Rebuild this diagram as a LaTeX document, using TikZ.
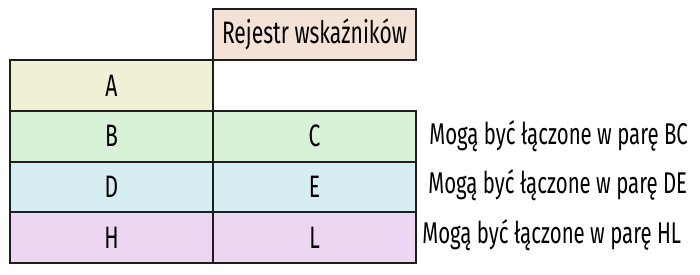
\documentclass[tikz,border=0pt]{standalone}
\usepackage{fontspec}
\setmainfont{Fira Sans}[FakeStretch=0.68]
\usepackage{tikz}
\usetikzlibrary{
  positioning,
  backgrounds
}
\definecolor{hdrbg}{RGB}{245,226,214}
\definecolor{rowabg}{RGB}{239,240,214}
\definecolor{rowbcbg}{RGB}{215,242,214}
\definecolor{rowdebg}{RGB}{214,238,242}
\definecolor{rowhlbg}{RGB}{237,214,242}
\definecolor{cellborder}{RGB}{30,30,30}
\tikzset{
  cellbox/.style={
    draw=cellborder, line width=1pt, outer sep=0pt, inner sep=0pt,
    minimum width=101.5pt, minimum height=25.4pt,
    font=\fontsize{15.5}{17}\selectfont, align=center
  },
  notetext/.style={
    inner sep=0pt, anchor=west,
    font=\fontsize{15}{17}\selectfont
  }
}
\begin{document}
\begin{tikzpicture}[
    node distance=0pt
  ]

    \useasboundingbox (0,0) rectangle (350pt,-137pt);

    \node[cellbox, fill=rowabg, anchor=north west] (a) at (5pt,-30pt) {A};
    \node[cellbox, fill=rowbcbg, below=of a] (b) {B};
    \node[cellbox, fill=rowbcbg, right=of b] (c) {C};
    \node[cellbox, fill=rowdebg, below=of b] (d) {D};
    \node[cellbox, fill=rowdebg, right=of d] (e) {E};
    \node[cellbox, fill=rowhlbg, below=of d] (h) {H};
    \node[cellbox, fill=rowhlbg, right=of h] (l) {L};

    \node[cellbox, fill=hdrbg, above=25.4pt of c] (reg) {Rejestr wskaźników};

    \node[notetext, right=6.5pt of c] (nbc) {Mogą być łączone w parę BC};
    \node[notetext, right=6pt of e, yshift=1pt] (nde) {Mogą być łączone w parę DE};
    \node[notetext, right=3pt of l, yshift=1.5pt] (nhl) {Mogą być łączone w parę HL};

  \end{tikzpicture}
\end{document}
